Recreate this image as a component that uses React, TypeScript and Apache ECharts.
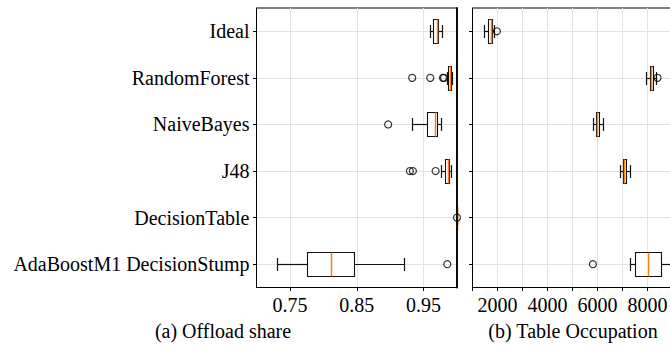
import React, { useEffect, useRef } from "react";
import * as echarts from "echarts";

const categories = [
  "Ideal",
  "RandomForest",
  "NaiveBayes",
  "J48",
  "DecisionTable",
  "AdaBoostM1 DecisionStump",
];

// [min, q1, median, q3, max]
const offloadBoxes = [
  [0.959, 0.9645, 0.97, 0.9715, 0.9775],
  [0.985, 0.9865, 0.989, 0.991, 0.993],
  [0.933, 0.9545, 0.967, 0.9695, 0.9765],
  [0.976, 0.9815, 0.987, 0.988, 0.991],
  [1.0, 1.0, 1.0, 1.0, 1.0],
  [0.731, 0.776, 0.811, 0.8465, 0.92],
];
// [category index, value]
const offloadOutliers = [
  [1, 0.933],
  [1, 0.96],
  [1, 0.979],
  [1, 0.9805],
  [2, 0.897],
  [3, 0.9295],
  [3, 0.934],
  [3, 0.968],
  [4, 1.0],
  [5, 0.9855],
];

const tableBoxes = [
  [1440, 1616, 1720, 1760, 1840],
  [7948, 8096, 8148, 8216, 8320],
  [5816, 5920, 5988, 6056, 6200],
  [6880, 7000, 7068, 7136, 7280],
  [9800, 9900, 10000, 10100, 10300],
  [7280, 7480, 8000, 8520, 9400],
];
const tableOutliers = [
  [0, 1976],
  [1, 8400],
  [5, 5816],
];

const offloadTicks = [0.75, 0.85, 0.95];
const captions = ["(a) Offload share", "(b) Table Occupation"];

const FONT = '"Liberation Serif", "Times New Roman", serif';
const GRID_COLOR = "#e3e3e3";
const EDGE = "#111";
const MEDIAN = "#ff7f0e";

function renderBox(params: any, api: any) {
  const ci = api.value(0);
  const vals = [1, 2, 3, 4, 5].map((i) => api.coord([api.value(i), ci]));
  const yc = Math.round(vals[0][1]);
  const bw = api.size([0, 1])[1];
  const h = Math.round(bw * 0.25);
  const cap = Math.round(bw * 0.125);
  const [xMin, xQ1, xMed, xQ3, xMax] = vals.map((p: number[]) => Math.round(p[0]));
  const hbar = (x1: number, x2: number) => ({
    type: "rect",
    shape: { x: Math.min(x1, x2), y: yc - 0.1, width: Math.abs(x2 - x1) + 1, height: 1.2 },
    style: { fill: EDGE },
  });
  const vbar = (x: number, half: number, color: string, w: number) => ({
    type: "rect",
    z2: 2,
    shape: { x: x + 0.5 - w / 2, y: yc - half, width: w, height: 2 * half + 1 },
    style: { fill: color },
  });
  return {
    type: "group",
    children: [
      hbar(xMin, xQ1),
      hbar(xQ3, xMax),
      vbar(xMin, cap, EDGE, 1.2),
      vbar(xMax, cap, EDGE, 1.2),
      {
        type: "rect",
        z2: 1,
        shape: { x: xQ1 + 0.5, y: yc - h + 0.5, width: Math.max(xQ3 - xQ1, 0), height: 2 * h },
        style: { fill: "#fff", stroke: EDGE, lineWidth: 1.1 },
      },
      vbar(xMed, h - 0.5, MEDIAN, 1.5),
    ],
  };
}

export default function App() {
  const ref = useRef<HTMLDivElement>(null);
  useEffect(() => {
    if (!ref.current) return;
    const chart = echarts.init(ref.current, null, { renderer: "svg" });
    const yAxisBase = (gridIndex: number) => ({
      type: "category",
      gridIndex,
      data: categories,
      inverse: true,
      axisLine: { show: true, lineStyle: { color: "#000", width: 1 } },
      axisTick: { show: true, alignWithLabel: true, length: 3.5, lineStyle: { color: "#000" } },
      axisLabel: {
        show: gridIndex === 0,
        fontFamily: FONT,
        fontSize: 20,
        color: "#000",
        margin: 7,
      },
      splitLine: { show: false },
      z: 10,
    });
    const markGridY = {
      silent: true,
      z: 0,
      symbol: "none",
      label: { show: false },
      lineStyle: { color: GRID_COLOR, type: "solid", width: 1 },
      data: categories.map((c) => ({ yAxis: c })),
    };
    const option: any = {
      animation: false,
      grid: [
        {
          left: 256.5, top: 8, width: 200.5, height: 279.5, show: true,
          borderColor: "#000", borderWidth: 1, outerBoundsMode: "none", containLabel: false,
        },
        {
          left: 472.5, top: 8, width: 250, height: 279.5, show: true,
          borderColor: "#000", borderWidth: 1, outerBoundsMode: "none", containLabel: false,
        },
      ],
      xAxis: [
        {
          type: "value",
          gridIndex: 0,
          min: 0.7,
          max: 1.0,
          interval: 0.05,
          axisLine: { show: true, lineStyle: { color: "#000" } },
          axisTick: { show: true, length: 3.5, lineStyle: { color: "#000" }, customValues: offloadTicks },
          axisLabel: {
            fontFamily: FONT,
            fontSize: 20,
            color: "#000",
            margin: 7,
            customValues: offloadTicks,
            formatter: (v: number) => v.toFixed(2),
          },
          splitLine: { show: false },
          z: 10,
        },
        {
          type: "value",
          gridIndex: 1,
          min: 1000,
          max: 11000,
          interval: 1000,
          axisLine: { show: true, lineStyle: { color: "#000" } },
          axisTick: { show: true, length: 3.5, lineStyle: { color: "#000" } },
          axisLabel: {
            fontFamily: FONT,
            fontSize: 20,
            color: "#000",
            margin: 7,
            formatter: (v: number) => (v % 2000 === 0 && v < 10000 ? String(v) : ""),
          },
          splitLine: { show: true, lineStyle: { color: GRID_COLOR, width: 1 } },
          z: 0,
        },
      ],
      yAxis: [
        yAxisBase(0),
        yAxisBase(1),
        {
          type: "category",
          gridIndex: 0,
          data: categories,
          inverse: true,
          position: "right",
          axisLine: { show: true, lineStyle: { color: "#000", width: 1.8 } },
          axisTick: { show: false },
          axisLabel: { show: false },
          splitLine: { show: false },
          z: 10,
        },
      ],
      series: [
        {
          type: "scatter",
          xAxisIndex: 0,
          yAxisIndex: 0,
          data: [],
          z: 0,
          markLine: {
            ...markGridY,
            data: [
              ...categories.map((c) => ({ yAxis: c })),
              ...offloadTicks.map((t) => ({ xAxis: t })),
            ],
          },
        },
        {
          type: "scatter",
          xAxisIndex: 1,
          yAxisIndex: 1,
          data: [],
          z: 0,
          markLine: markGridY,
        },
        {
          type: "custom",
          xAxisIndex: 0,
          yAxisIndex: 0,
          z: 3,
          renderItem: renderBox,
          encode: { x: [1, 2, 3, 4, 5], y: 0 },
          data: offloadBoxes.map((b, i) => [i, ...b]),
        },
        {
          type: "custom",
          xAxisIndex: 1,
          yAxisIndex: 1,
          z: 3,
          renderItem: renderBox,
          encode: { x: [1, 2, 3, 4, 5], y: 0 },
          data: tableBoxes.map((b, i) => [i, ...b]),
        },
        {
          type: "scatter",
          xAxisIndex: 0,
          yAxisIndex: 0,
          z: 4,
          symbol: "circle",
          symbolSize: 7,
          itemStyle: { color: "rgba(0,0,0,0)", borderColor: "#000", borderWidth: 1.2 },
          data: offloadOutliers.map(([c, v]) => [v, c]),
        },
        {
          type: "scatter",
          xAxisIndex: 1,
          yAxisIndex: 1,
          z: 4,
          symbol: "circle",
          symbolSize: 7,
          itemStyle: { color: "rgba(0,0,0,0)", borderColor: "#000", borderWidth: 1.2 },
          data: tableOutliers.map(([c, v]) => [v, c]),
        },
      ],
      graphic: [
        {
          type: "text",
          x: 223,
          y: 331,
          style: { text: captions[0], fontFamily: FONT, fontSize: 20, fill: "#000", align: "center", verticalAlign: "middle" },
        },
        {
          type: "text",
          x: 573,
          y: 331,
          style: { text: captions[1], fontFamily: FONT, fontSize: 20, fill: "#000", align: "center", verticalAlign: "middle" },
        },
      ],
    };
    chart.setOption(option);
    return () => chart.dispose();
  }, []);
  return (
    <div
      ref={ref}
      style={{ position: "absolute", left: 0, top: 0, width: 670, height: 350, background: "#fff" }}
    />
  );
}
